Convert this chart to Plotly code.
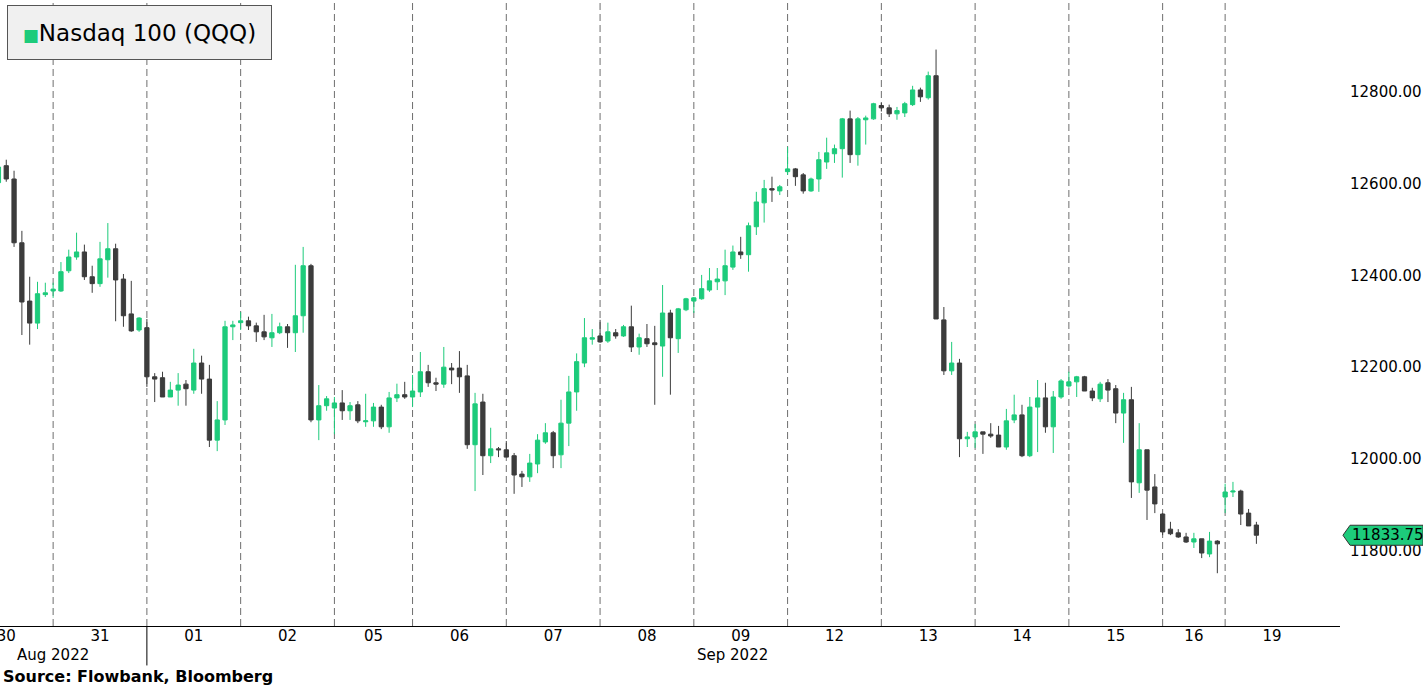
import plotly.graph_objects as go

# sessions shown on the x axis (2-hour bars)
days = ["30", "31", "01", "02", "05", "06", "07", "08", "09", "12", "13", "14", "15", "16", "19"]
session_len = [12, 12, 12, 12, 10, 12, 12, 12, 12, 12, 12, 12, 12, 8, 12]
bars_shown = [7, 12, 12, 12, 10, 12, 12, 12, 12, 12, 12, 12, 12, 8, 5]
month_labels = ["Aug 2022", "Sep 2022"]

opens = [
    12602, 12639, 12610, 12471, 12344, 12296, 12358,
    12366, 12366, 12410, 12440, 12451, 12397, 12382, 12434, 12458, 12392, 12316, 12281,
    12286, 12179, 12177, 12135, 12150, 12163, 12150, 12209, 12174, 12041, 12085, 12288,
    12297, 12301, 12290, 12277, 12264, 12275, 12288, 12275, 12312, 12421, 12085, 12116,
    12111, 12122, 12105, 12118, 12081, 12083, 12113, 12070, 12133, 12140,
    12135, 12146, 12190, 12166, 12163, 12198, 12198, 12181, 12031, 12124, 12007, 12022,
    12020, 12007, 11967, 11961, 11989, 12037, 12057, 12009, 12078, 12146, 12209, 12261,
    12268, 12257, 12275, 12268, 12288, 12244, 12262, 12253, 12246, 12318, 12262, 12325,
    12344, 12349, 12368, 12386, 12388, 12418, 12451, 12445, 12506, 12558, 12589, 12584,
    12626, 12632, 12619, 12584, 12610, 12647, 12665, 12676, 12741, 12663, 12739, 12741,
    12770, 12765, 12752, 12754, 12772, 12804, 12787, 12835, 12303, 12192, 12209, 12044,
    12048, 12059, 12054, 12052, 12026, 12085, 12096, 12007, 12113, 12133, 12070, 12135,
    12159, 12168, 12179, 12148, 12131, 12166, 12153, 12100, 12129, 11948, 12020, 11939,
    11880, 11847, 11839, 11830, 11819, 11826, 11793, 11821,
    11917, 11928, 11930, 11882, 11856,
]
highs = [
    12645, 12652, 12628, 12497, 12397, 12386, 12384,
    12384, 12429, 12456, 12493, 12467, 12421, 12473, 12514, 12469, 12403, 12388, 12309,
    12305, 12187, 12190, 12168, 12187, 12172, 12240, 12225, 12205, 12126, 12301, 12301,
    12320, 12310, 12297, 12314, 12316, 12297, 12294, 12423, 12462, 12425, 12161, 12137,
    12135, 12150, 12124, 12126, 12142, 12122, 12118, 12146, 12164, 12168,
    12183, 12233, 12205, 12177, 12244, 12209, 12235, 12205, 12144, 12142, 12068, 12026,
    12039, 12013, 11974, 12011, 12054, 12078, 12061, 12129, 12181, 12230, 12307, 12283,
    12303, 12297, 12283, 12292, 12334, 12273, 12294, 12290, 12379, 12325, 12329, 12351,
    12353, 12401, 12416, 12416, 12456, 12465, 12484, 12515, 12582, 12608, 12615, 12597,
    12680, 12634, 12623, 12613, 12669, 12700, 12685, 12743, 12759, 12745, 12748, 12776,
    12776, 12772, 12767, 12778, 12813, 12809, 12844, 12892, 12331, 12255, 12218, 12059,
    12076, 12059, 12078, 12072, 12109, 12140, 12118, 12135, 12172, 12166, 12148, 12174,
    12190, 12181, 12181, 12155, 12168, 12174, 12161, 12144, 12157, 12078, 12020, 11967,
    11882, 11863, 11847, 11839, 11839, 11826, 11841, 11823,
    11946, 11950, 11933, 11891, 11863,
]
lows = [
    12598, 12604, 12462, 12270, 12249, 12283, 12353,
    12351, 12364, 12405, 12434, 12390, 12362, 12375, 12395, 12300, 12288, 12277, 12277,
    12157, 12124, 12135, 12135, 12116, 12116, 12142, 12142, 12026, 12017, 12074, 12259,
    12281, 12281, 12255, 12259, 12244, 12272, 12242, 12233, 12275, 12080, 12041, 12105,
    12054, 12085, 12085, 12078, 12070, 12070, 12065, 12057, 12124, 12131,
    12113, 12135, 12157, 12148, 12155, 12163, 12144, 12022, 11930, 11965, 11991, 12004,
    12004, 11924, 11939, 11950, 11969, 12033, 11980, 11980, 12028, 12105, 12200, 12249,
    12253, 12253, 12262, 12266, 12233, 12227, 12244, 12118, 12179, 12140, 12231, 12322,
    12318, 12347, 12364, 12368, 12357, 12412, 12436, 12408, 12488, 12515, 12560, 12575,
    12619, 12595, 12578, 12582, 12582, 12632, 12645, 12613, 12645, 12639, 12685, 12739,
    12757, 12745, 12739, 12745, 12769, 12778, 12783, 12305, 12183, 12183, 12004, 12026,
    12024, 12011, 12046, 12026, 12020, 12078, 12004, 12004, 12015, 12057, 12013, 12131,
    12155, 12135, 12148, 12126, 12124, 12124, 12078, 12035, 11915, 11926, 11867, 11882,
    11834, 11834, 11828, 11817, 11806, 11784, 11786, 11751,
    11882, 11917, 11856, 11854, 11815,
]
closes = [
    12636, 12610, 12471, 12342, 12296, 12360, 12362,
    12370, 12408, 12440, 12451, 12397, 12382, 12436, 12458, 12390, 12312, 12279, 12307,
    12179, 12174, 12135, 12150, 12161, 12153, 12209, 12174, 12041, 12085, 12288, 12292,
    12301, 12290, 12277, 12266, 12275, 12288, 12275, 12312, 12421, 12085, 12116, 12131,
    12122, 12105, 12116, 12083, 12083, 12113, 12070, 12133, 12140, 12135,
    12148, 12190, 12166, 12163, 12200, 12194, 12179, 12031, 12120, 12007, 12022, 12020,
    12004, 11965, 11961, 11991, 12041, 12057, 12007, 12078, 12146, 12212, 12264, 12264,
    12255, 12277, 12268, 12288, 12244, 12264, 12251, 12249, 12318, 12264, 12327, 12349,
    12351, 12371, 12388, 12392, 12421, 12451, 12445, 12508, 12560, 12589, 12586, 12593,
    12632, 12615, 12584, 12610, 12652, 12667, 12676, 12741, 12663, 12741, 12743, 12774,
    12765, 12752, 12759, 12774, 12804, 12789, 12835, 12305, 12192, 12209, 12044, 12048,
    12059, 12054, 12050, 12026, 12083, 12096, 12007, 12113, 12133, 12070, 12135, 12170,
    12168, 12179, 12148, 12133, 12163, 12150, 12100, 12129, 11950, 12020, 11932, 11902,
    11841, 11837, 11830, 11819, 11826, 11795, 11821, 11815,
    11928, 11930, 11880, 11854, 11833.75,
]

GREEN = "#1dcb7b"
DARK = "#3c3c3c"
FONT = dict(family="DejaVu Sans, Verdana, sans-serif", size=15, color="#000")

# bar positions: one unit per bar, sessions laid out back to back
starts = []
s = -session_len[0]
for n in session_len:
    starts.append(s)
    s += n
xs = []
for k, (st, n, shown) in enumerate(zip(starts, session_len, bars_shown)):
    first = n - shown if k == 0 else 0
    xs += [st + i for i in range(first, first + shown)]

tick_pos = [st + n // 2 for st, n in zip(starts, session_len)]

fig = go.Figure(go.Candlestick(
    x=xs, open=opens, high=highs, low=lows, close=closes,
    increasing=dict(line=dict(color=GREEN, width=1), fillcolor=GREEN),
    decreasing=dict(line=dict(color=DARK, width=1), fillcolor=DARK),
    whiskerwidth=0, showlegend=False, hoverinfo="skip",
))

# day separators
for st in starts[1:]:
    fig.add_shape(type="line", x0=st, x1=st, xref="x", y0=0, y1=1, yref="paper",
                  line=dict(color="#6e6e6e", width=1, dash="7px,4px"), layer="below")
# month boundary below the axis
sep_start = starts[days.index("01")]
fig.add_shape(type="line", x0=sep_start, x1=sep_start, xref="x", y0=0, y1=-0.063, yref="paper",
              line=dict(color="#000", width=1))

fig.add_annotation(x=0, xref="x", y=-0.046, yref="paper", text=month_labels[0],
                   showarrow=False, font=FONT, yanchor="middle")
fig.add_annotation(x=87, xref="x", y=-0.046, yref="paper", text=month_labels[1],
                   showarrow=False, font=FONT, yanchor="middle")
fig.add_annotation(x=0.001, xref="paper", y=-0.081, yref="paper", xanchor="left", yanchor="middle",
                   text="<b>Source: Flowbank, Bloomberg</b>", showarrow=False,
                   font=dict(family="DejaVu Sans, Verdana, sans-serif", size=16, color="#000"))

# legend box
fig.add_annotation(x=0.0052, xref="paper", y=0.992, yref="paper", xanchor="left", yanchor="top",
                   text=f"<span style='color:{GREEN};font-size:17px'>■</span>Nasdaq 100 (QQQ)",
                   showarrow=False, width=263, height=53, borderpad=0,
                   bgcolor="#f0f0f0", bordercolor="#555", borderwidth=1,
                   font=dict(family="DejaVu Sans, Verdana, sans-serif", size=23, color="#000"))

# last price tag
last = closes[-1]
h = 21.8
fig.add_shape(type="path", xref="paper", yref="y", layer="above",
              path=f"M 1.0022 {last} L 1.0075 {last + h} L 1.062 {last + h} "
                   f"L 1.062 {last - h} L 1.0075 {last - h} Z",
              fillcolor=GREEN, line=dict(color="#333", width=1))
fig.add_annotation(x=1.0075, xref="paper", y=last, yref="y", xanchor="left", yanchor="middle",
                   text=f"{last:.2f}", showarrow=False, font=FONT)

fig.update_layout(
    width=1423, height=685,
    margin=dict(l=0, r=83, t=0, b=59, autoexpand=False),
    paper_bgcolor="white", plot_bgcolor="white",
    boxgap=0.22,
    font=FONT,
    xaxis=dict(range=[-6.8, 164.7], tickvals=tick_pos, ticktext=days, showgrid=False,
               zeroline=False, showline=True, linecolor="#000", linewidth=1, automargin=False,
               ticks="", ticklabelstandoff=-4, ticklabeloverflow="allow",
               rangeslider=dict(visible=False), tickfont=FONT),
    yaxis=dict(range=[11636, 13000], side="right", tickvals=[11800, 12000, 12200, 12400, 12600, 12800],
               tickformat=".2f", showgrid=False, zeroline=False, showline=False, automargin=False,
               ticks="", ticklabelstandoff=9, tickfont=FONT),
)

# the page's default body margin would shift the figure inside the window
fig.write_html("out.html", config={"displayModeBar": False},
               post_script="document.body.style.margin='0';document.body.style.padding='0';")
